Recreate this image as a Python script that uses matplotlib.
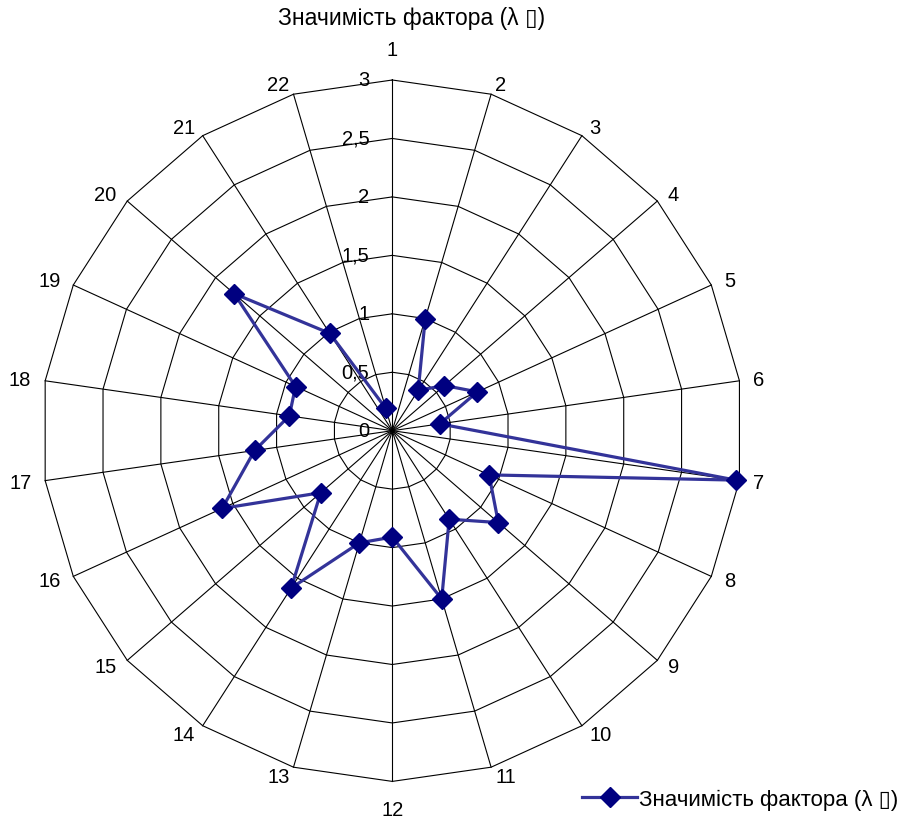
import numpy as np
import matplotlib
matplotlib.use("Agg")
import matplotlib.pyplot as plt

plt.rcParams['font.family'] = ['Liberation Sans', 'DejaVu Sans']

# ---- data ----
categories = [str(i) for i in range(1, 23)]
values = [np.nan, 1.0, 0.41, 0.59, 0.80, 0.41, 2.97, 0.91, 1.20, 0.90, 1.50,
          0.91, 1.00, 1.60, 0.81, 1.60, 1.19, 0.89, 0.91, 1.79, 0.99, 0.20]
rings = [0.5, 1.0, 1.5, 2.0, 2.5, 3.0]
tick_values = [0, 0.5, 1, 1.5, 2, 2.5, 3]
tick_labels = ['0', '0,5', '1', '1,5', '2', '2,5', '3']
series_name = 'Значимість фактора (λ \u25AF)'
title_text = 'Значимість фактора (λ \u25AF)'

FS = 14.5
W, H = 915, 820
fig = plt.figure(figsize=(W / 100, H / 100), dpi=100)
cx, cy, R = 392.3, 431.7, 350.7
ax = fig.add_axes([(cx - R) / W, (H - cy - R) / H, 2 * R / W, 2 * R / H],
                  projection='polar')
ax.set_theta_zero_location('N')
ax.set_theta_direction(-1)
ax.set_ylim(0, 3)
ax.grid(False)
ax.set_xticks([])
ax.set_yticks([])
ax.spines['polar'].set_visible(False)

n = len(categories)
theta = np.arange(n) * 2 * np.pi / n
theta_closed = np.append(theta, theta[0])

# polygon rings
for r in rings:
    ax.plot(theta_closed, [r] * (n + 1), color='black', lw=0.8, zorder=1,
            clip_on=False)
# spokes
for t in theta:
    ax.plot([t, t], [0, rings[-1]], color='black', lw=0.8, zorder=1,
            clip_on=False)

# radial tick labels
for v, lab in zip(tick_values, tick_labels):
    ax.annotate(lab, xy=(0, v), xytext=(-23, 0), textcoords='offset pixels',
                ha='right', va='center', fontsize=FS, zorder=3)

# category labels
for t, lab in zip(theta, categories):
    s, c = np.sin(t), np.cos(t)
    if abs(s) < 0.05:
        dx, dy = 0, (30 if c > 0 else -28)
        ha = 'center'
    else:
        dx = 14 * s
        dy = 10 * c
        ha = 'left' if s > 0 else 'right'
    ax.annotate(lab, xy=(t, rings[-1]), xytext=(dx, dy),
                textcoords='offset pixels', ha=ha, va='center',
                fontsize=FS, annotation_clip=False)

# data series
line, = ax.plot(theta, values, color='#333399', lw=2.3, marker='D',
                markersize=10, markerfacecolor='#000080',
                markeredgecolor='#000080', zorder=4, clip_on=False)

fig.text(411.5 / W, 1 - 19 / H, title_text, ha='center', va='center',
         fontsize=16.5)

LFS = 16
fig.legend(handles=[line], labels=[series_name], loc='center left',
           bbox_to_anchor=(582 / W, 1 - 800 / H), frameon=False,
           handlelength=55 / (LFS * 100 / 72), handletextpad=0.1,
           borderpad=0, borderaxespad=0, fontsize=LFS)

fig.savefig('out.png', dpi=100)
